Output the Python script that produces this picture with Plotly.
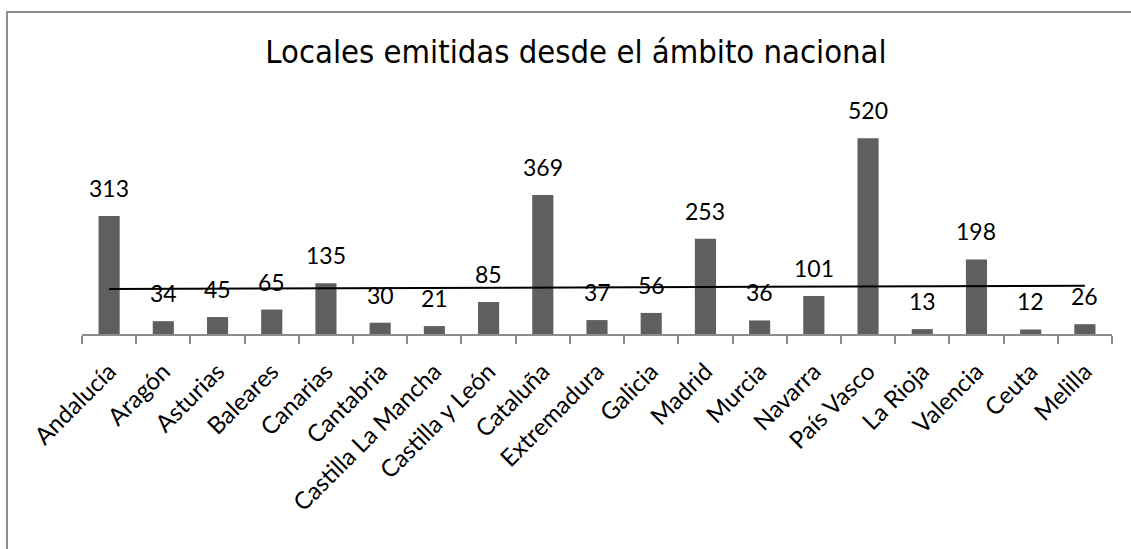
import numpy as np
import plotly.graph_objects as go

# Emisoras locales por comunidad autónoma
regiones = ["Andalucía", "Aragón", "Asturias", "Baleares", "Canarias", "Cantabria",
            "Castilla La Mancha", "Castilla y León", "Cataluña", "Extremadura", "Galicia",
            "Madrid", "Murcia", "Navarra", "País Vasco", "La Rioja", "Valencia", "Ceuta",
            "Melilla"]
emisoras = [313, 34, 45, 65, 135, 30, 21, 85, 369, 37, 56, 253, 36, 101, 520, 13, 198, 12, 26]
titulo = "Locales emitidas desde el ámbito nacional"

W, H = 1131, 549
ML, MR, MT, MB = 82, 19, 108, 215
PW, PH = W - ML - MR, H - MT - MB

# Línea de tendencia lineal sobre las posiciones 1..n
xs = np.arange(1, len(emisoras) + 1)
pend, orig = np.polyfit(xs, emisoras, 1)
tend = [orig + pend * xs[0], orig + pend * xs[-1]]

LABEL_FONT = "Lato"

fig = go.Figure()
fig.add_trace(go.Bar(
    x=regiones, y=emisoras, width=0.39,
    marker=dict(color="#5f5f5f", line=dict(width=0)),
    hoverinfo="skip", showlegend=False,
))
fig.add_trace(go.Scatter(
    x=[regiones[0], regiones[-1]], y=tend, mode="lines",
    line=dict(color="black", width=2), hoverinfo="skip", showlegend=False,
))

for r, v in zip(regiones, emisoras):
    fig.add_annotation(x=r, y=v, text=str(v), showarrow=False,
                       xanchor="center", yanchor="bottom", yshift=12,
                       font=dict(family=LABEL_FONT, size=23, color="black"))


def px_x(p):
    return (p - ML) / PW


def px_y(p):
    return (H - MB - p) / PH


# Borde del área del gráfico
fig.add_shape(type="rect", xref="paper", yref="paper",
              x0=px_x(7), x1=px_x(W + 20), y0=px_y(H + 20), y1=px_y(12),
              line=dict(color="#8c8c8c", width=2), fillcolor="rgba(0,0,0,0)", layer="below")

fig.update_layout(
    width=W, height=H,
    margin=dict(l=ML, r=MR, t=MT, b=MB, pad=0),
    paper_bgcolor="white", plot_bgcolor="rgba(0,0,0,0)",
    title=dict(text=titulo, x=576 / W, xref="container", xanchor="center",
               y=1 - 52 / H, yref="container", yanchor="middle",
               font=dict(family="DejaVu Sans Condensed", size=32.5, color="black")),
    xaxis=dict(
        type="category", tickangle=-45, tickson="boundaries",
        ticks="outside", ticklen=8, tickwidth=1.5, tickcolor="#8c8c8c",
        showline=True, linecolor="#8c8c8c", linewidth=2,
        showgrid=False, zeroline=False,
        tickfont=dict(family=LABEL_FONT, size=24, color="black"),
        ticklabelstandoff=12,
        range=[-0.5, len(regiones) - 0.5],
    ),
    yaxis=dict(range=[0, 600], visible=False, showgrid=False, zeroline=False),
    bargap=0.61,
)

fig.write_html("out.html")
